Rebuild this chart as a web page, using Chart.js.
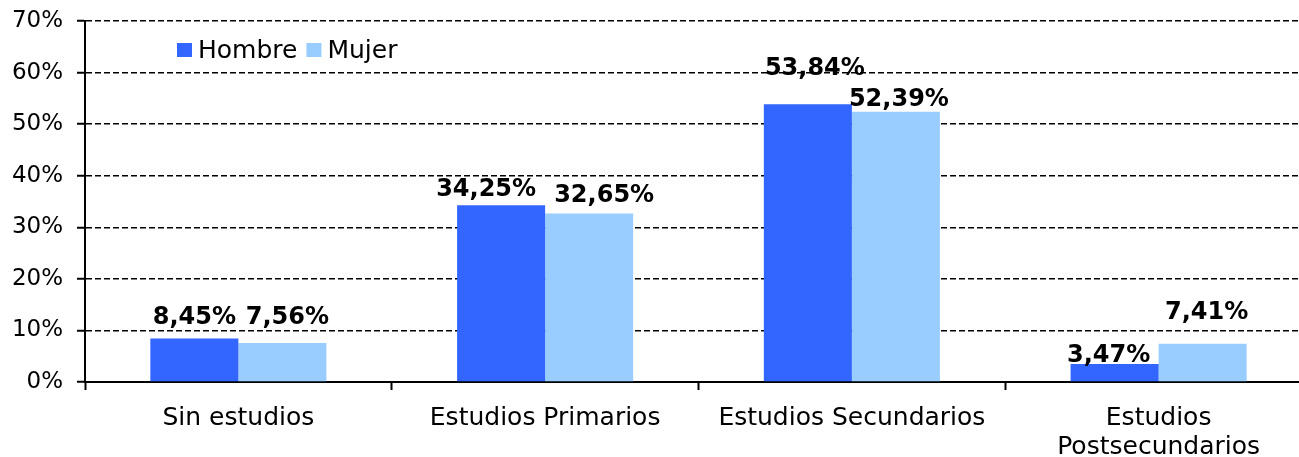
<!DOCTYPE html>
<html>
<head>
<meta charset="utf-8">
<script src="https://cdn.jsdelivr.net/npm/chart.js@4.4.0/dist/chart.umd.min.js"></script>
<style>
  html, body { margin: 0; padding: 0; background: #fff; overflow: hidden; }
  canvas { display: block; }
</style>
</head>
<body>
<canvas id="myChart" width="1320" height="457"></canvas>
<script>
'use strict';
// data
let categories = ['Sin estudios', 'Estudios Primarios', 'Estudios Secundarios', ['Estudios', 'Postsecundarios']];
let hombre = [8.45, 34.25, 53.84, 3.47];
let mujer = [7.56, 32.65, 52.39, 7.41];
let yTicks = [0, 10, 20, 30, 40, 50, 60, 70];

// label nudges (px) so they sit like in the original
let hombreLabelGap = [14, 9, 29, 2];
let mujerLabelGap = [19, 12, 6, 25];
let hombreLabelDx = [0, -15, 7, -6];
let mujerLabelDx = [5, 15, 3, 4];

const fontFamily = '"DejaVu Sans", Verdana, sans-serif';

function pct(v){
  return v.toFixed(2).replace('.', ',') + '%';
}

const valueLabels = {
  id: 'valueLabels',
  afterDatasetsDraw(chart){
    let ctx = chart.ctx;
    let gaps = [hombreLabelGap, mujerLabelGap];
    let dxs = [hombreLabelDx, mujerLabelDx];
    ctx.save();
    ctx.font = 'bold 24px ' + fontFamily;
    ctx.fillStyle = '#000';
    ctx.textAlign = 'center';
    ctx.textBaseline = 'alphabetic';
    chart.data.datasets.forEach((ds, i) => {
      let meta = chart.getDatasetMeta(i);
      meta.data.forEach((bar, j) => {
        ctx.fillText(pct(ds.data[j]), bar.x + dxs[i][j], bar.y - gaps[i][j]);
      });
    });
    ctx.restore();
  }
};

// legend drawn inside the plot, top left
const innerLegend = {
  id: 'innerLegend',
  afterDraw(chart){
    let ctx = chart.ctx;
    let x = 177;
    let y = 50;
    ctx.save();
    ctx.font = '25px ' + fontFamily;
    ctx.textBaseline = 'middle';
    ctx.textAlign = 'left';
    chart.data.datasets.forEach((ds) => {
      ctx.fillStyle = ds.backgroundColor;
      ctx.fillRect(x, y - 7, 15, 14);
      ctx.fillStyle = '#000';
      ctx.fillText(ds.label, x + 21, y + 1);
      x += 21 + ctx.measureText(ds.label).width + 9;
    });
    ctx.restore();
  }
};

const data = {
  labels: categories,
  datasets: [{
    label: 'Hombre',
    data: hombre,
    backgroundColor: '#3366FF',
    categoryPercentage: 0.574,
    barPercentage: 1.0
  },
  {
    label: 'Mujer',
    data: mujer,
    backgroundColor: '#99CCFF',
    categoryPercentage: 0.574,
    barPercentage: 1.0
  }]
};

const config = {
  type: 'bar',
  data: data,
  plugins: [valueLabels, innerLegend],
  options: {
    responsive: false,
    animation: false,
    layout: { padding: { top: 21, right: 8, left: 0, bottom: 0 } },
    plugins: {
      legend: { display: false },
      tooltip: { enabled: false }
    },
    scales: {
      x: {
        grid: {
          offset: true,
          drawOnChartArea: false,
          drawTicks: true,
          tickLength: 8,
          tickColor: '#000',
          tickWidth: 2
        },
        border: { display: true, color: '#000', width: 2 },
        ticks: {
          color: '#000',
          padding: 14,
          maxRotation: 0,
          autoSkip: false,
          font: { family: fontFamily, size: 25, lineHeight: 1.15 }
        },
        afterFit(scale){
          scale.height = 75;
          scale.paddingLeft = 0;
          scale.paddingRight = 0;
        }
      },
      y: {
        min: 0,
        max: 70,
        afterBuildTicks(scale){
          scale.ticks = yTicks.map(v => ({ value: v }));
        },
        grid: {
          color: '#000',
          lineWidth: 1.5,
          tickLength: 8,
          tickColor: '#000',
          tickWidth: 2,
          tickBorderDash: []
        },
        border: { display: true, color: '#000', width: 2, dash: [6, 3] },
        ticks: {
          color: '#000',
          padding: 14,
          font: { family: fontFamily, size: 23 },
          callback: (v) => v + '%'
        },
        afterFit(scale){
          scale.width = 85;
          scale.paddingTop = 0;
          scale.paddingBottom = 0;
        }
      }
    }
  }
};

let myChart = new Chart(document.getElementById('myChart'), config);
</script>
</body>
</html>
